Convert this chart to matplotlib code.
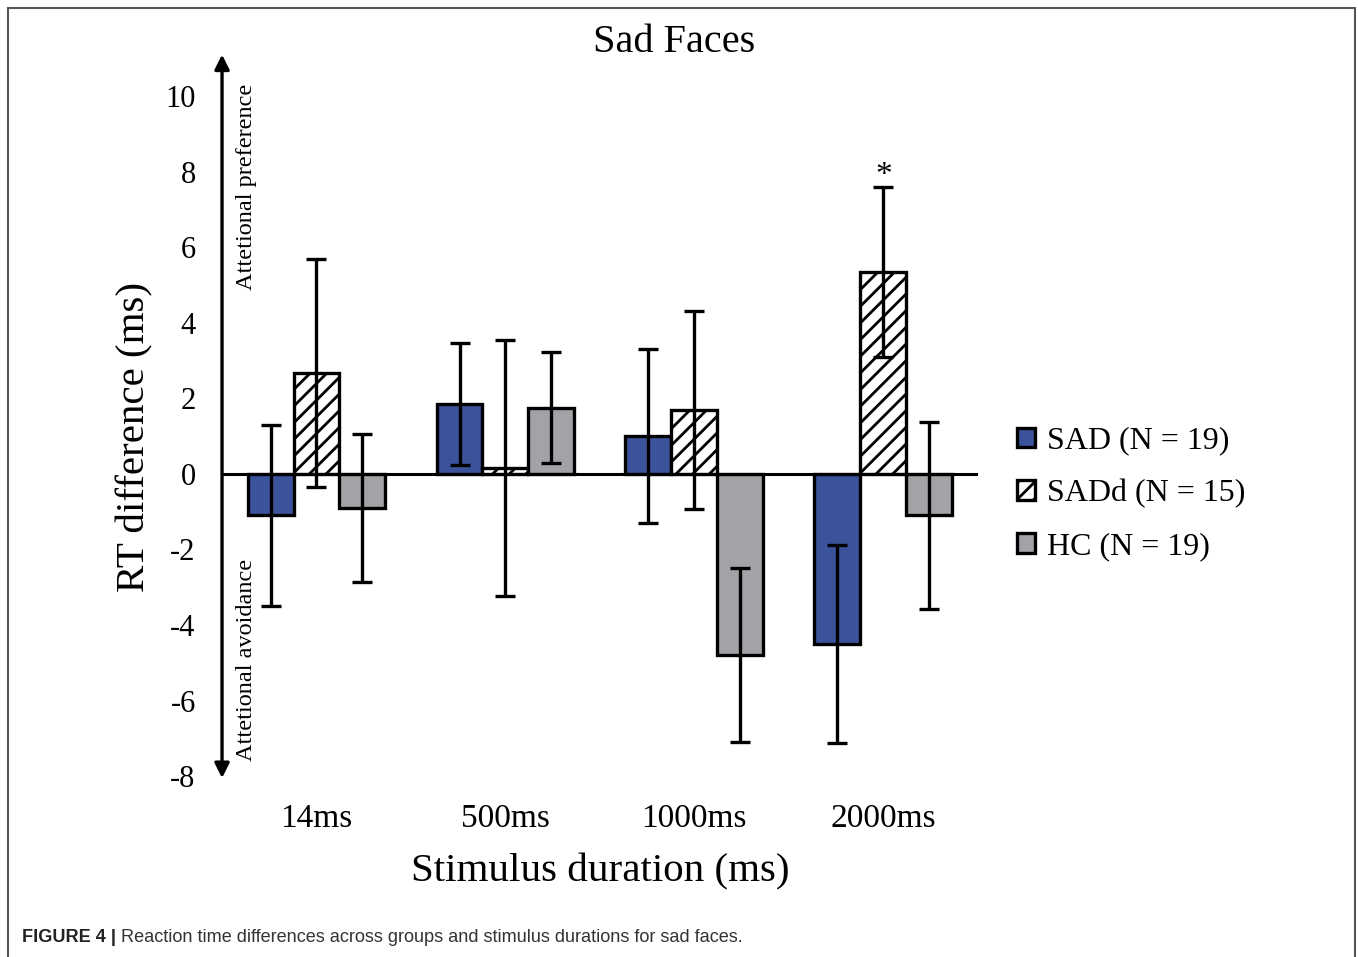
import numpy as np
import matplotlib
matplotlib.use('Agg')
import matplotlib.pyplot as plt
from matplotlib.patches import Rectangle, Patch

durations = ['14ms', '500ms', '1000ms', '2000ms']
groups = ['SAD (N = 19)', 'SADd (N = 15)', 'HC (N = 19)']
sad_mean = [-1.1, 1.85, 1.0, -4.5]
sad_err = [2.4, 1.62, 2.3, 2.62]
sadd_mean = [2.68, 0.16, 1.7, 5.35]
sadd_err = [3.02, 3.38, 2.62, 2.25]
hc_mean = [-0.9, 1.75, -4.8, -1.1]
hc_err = [1.95, 1.47, 2.3, 2.48]

plt.rcParams['font.family'] = ['Liberation Serif', 'DejaVu Serif']
plt.rcParams['hatch.linewidth'] = 2.0

fig = plt.figure(figsize=(13.58, 9.57), dpi=100)
ax = fig.add_axes([0.1635, 0.185, 0.5565, 0.758])

x = np.arange(len(durations))
w = 0.243
blue = '#3b539a'
gray = '#a2a3a7'
ekw = dict(ecolor='black', elinewidth=2.4, capsize=7, capthick=2.4)

ax.bar(x - w, sad_mean, w, color=blue, edgecolor='black', linewidth=2.4,
       yerr=sad_err, error_kw=ekw, zorder=2)
ax.bar(x, sadd_mean, w, color='white', edgecolor='black', linewidth=2.4,
       hatch='//', yerr=sadd_err, error_kw=ekw, zorder=2)
ax.bar(x + w, hc_mean, w, color=gray, edgecolor='black', linewidth=2.4,
       yerr=hc_err, error_kw=ekw, zorder=2)

ax.axhline(0, color='black', lw=2.2, zorder=3)
ax.set_xlim(-0.5, 3.5)
ax.set_ylim(-8.1, 11.1)
for s in ax.spines.values():
    s.set_visible(False)

# double-headed y axis arrow
ax.annotate('', xy=(-0.5, 11.1), xytext=(-0.5, -8.05),
            xycoords='data', textcoords='data',
            arrowprops=dict(arrowstyle='<|-|>', lw=2.4, color='black',
                            mutation_scale=22, shrinkA=0, shrinkB=0),
            annotation_clip=False)

ax.set_yticks(np.arange(-8, 11, 2))
ax.set_yticklabels([str(v) for v in range(-8, 11, 2)])
ax.tick_params(axis='y', length=0, pad=19, labelsize=22)
ax.set_xticks(x)
ax.set_xticklabels(durations)
ax.tick_params(axis='x', length=0, pad=17, labelsize=24)

ax.set_xlabel('Stimulus duration (ms)', fontsize=29.5, labelpad=14)
fig.text(135 / 1358, 1 - 437 / 957, 'RT difference (ms)', fontsize=29.5,
         rotation=90, ha='center', va='center')
fig.text(674 / 1358, 1 - 42 / 957, 'Sad Faces', fontsize=29, ha='center', va='center')

ax.text(-0.37, 4.87, 'Attetional preference', rotation=90, fontsize=17.5,
        ha='center', va='bottom')
ax.text(-0.37, -7.6, 'Attetional avoidance', rotation=90, fontsize=17.5,
        ha='center', va='bottom')
ax.text(3, sadd_mean[3] + sadd_err[3] - 0.12, '*', fontsize=24,
        ha='center', va='bottom')

handles = [Patch(facecolor=blue, edgecolor='black', linewidth=2.4),
           Patch(facecolor='white', edgecolor='black', linewidth=2.4, hatch='//'),
           Patch(facecolor=gray, edgecolor='black', linewidth=2.4)]
fig.legend(handles, groups, loc='center left', bbox_to_anchor=(0.7395, 0.484),
           frameon=False, fontsize=23, handlelength=0.56, handleheight=0.56,
           handletextpad=0.38, labelspacing=0.74, borderaxespad=0)

# figure border and caption
fig.patches.append(Rectangle((0.006, -0.02), 0.992, 1.012, transform=fig.transFigure,
                             fill=False, edgecolor='#555555', lw=1.5))
sans = ['Liberation Sans', 'DejaVu Sans']
t1 = fig.text(0.016, 1 - 938 / 957, 'FIGURE 4 | ', fontsize=13.1, fontweight='bold',
              color='#222222', family=sans, va='center')
fig.canvas.draw()
bb = t1.get_window_extent()
fig.text(bb.x1 / fig.bbox.width, 1 - 938 / 957,
         'Reaction time differences across groups and stimulus durations for sad faces.',
         fontsize=13.1, color='#333333', family=sans, va='center')

fig.savefig('out.png', dpi=100)
